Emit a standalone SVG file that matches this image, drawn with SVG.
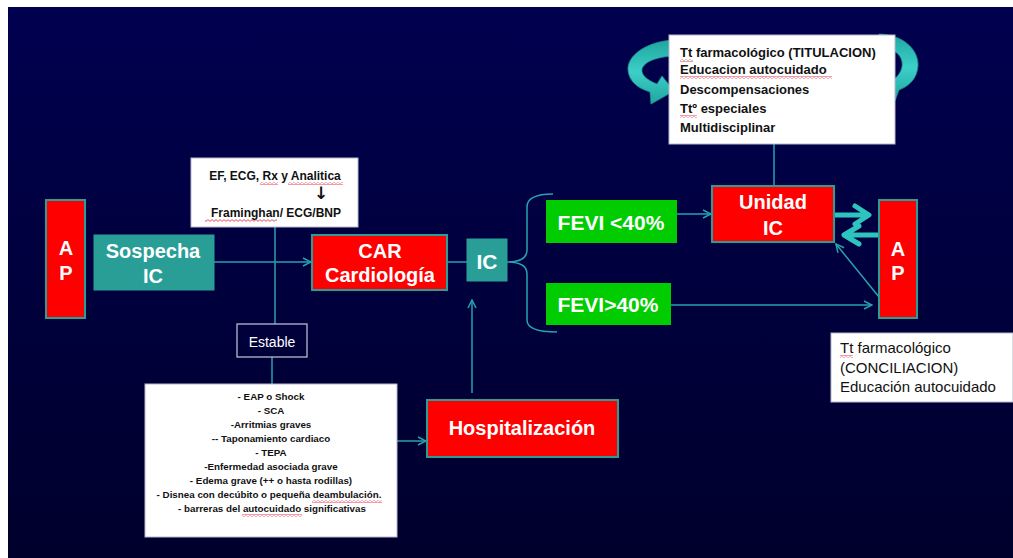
<svg xmlns="http://www.w3.org/2000/svg" width="1013" height="558" viewBox="0 0 1013 558">
<defs>
<linearGradient id="bg" x1="0" y1="0" x2="0" y2="1">
<stop offset="0" stop-color="#00004F"/>
<stop offset="1" stop-color="#00002C"/>
</linearGradient>
<linearGradient id="curl" x1="0" y1="0" x2="0" y2="1">
<stop offset="0" stop-color="#1FA59F"/>
<stop offset="0.5" stop-color="#3CCFC8"/>
<stop offset="1" stop-color="#1FA59F"/>
</linearGradient>
<marker id="open" viewBox="0 0 10 10" refX="9" refY="5" markerWidth="10" markerHeight="10" markerUnits="userSpaceOnUse" orient="auto">
<path d="M1,1 L9,5 L1,9" fill="none" stroke="#27A2AD" stroke-width="1.5"/>
</marker>
<pattern id="sq" width="4" height="3" patternUnits="userSpaceOnUse">
<path d="M0,0.6 L2,2.4 L4,0.6" fill="none" stroke="#E0203A" stroke-width="0.8"/>
</pattern>
<style>
.red{fill:#FF0000;stroke:#2A9D95;stroke-width:2}
.teal{fill:#289E97;stroke:#2A9D95;stroke-width:1}
.green{fill:#00CC00}
.wbox{fill:#FFFFFF;stroke:#B8B8CC;stroke-width:1}
.big{font-family:"Liberation Sans",Arial,sans-serif;font-weight:bold;fill:#FFFFFF;text-anchor:middle}
.dark{font-family:"Liberation Sans",Arial,sans-serif;font-weight:bold;fill:#111111}
.reg{font-family:"Liberation Sans",Arial,sans-serif;fill:#111111;font-size:15px}
.conn{stroke:#27A2AD;stroke-width:1.5;fill:none}
.thick{stroke:#2EC4BE;stroke-width:5;fill:none;stroke-linecap:round;stroke-linejoin:round}
</style>
</defs>
<rect x="0" y="0" width="1013" height="558" fill="#FFFFFF"/>
<rect x="8" y="7" width="1005" height="551" fill="url(#bg)"/>

<g id="connectors">
<line class="conn" x1="214" y1="262" x2="311" y2="262" marker-end="url(#open)"/>
<line class="conn" x1="275" y1="227" x2="275" y2="324"/>
<line class="conn" x1="272" y1="357" x2="272" y2="384"/>
<line class="conn" x1="397" y1="441" x2="426" y2="441" marker-end="url(#open)"/>
<line class="conn" x1="472" y1="393" x2="472" y2="300" marker-end="url(#open)"/>
<line class="conn" x1="447" y1="262" x2="467" y2="262"/>
<path class="conn" d="M553,194 Q527,194 527,207 L527,250 Q527,262 507,262 Q527,262 527,274 L527,320 Q527,332 557,332"/>
<line class="conn" x1="677" y1="214" x2="711" y2="214" marker-end="url(#open)"/>
<line class="conn" x1="671" y1="305" x2="872" y2="305" marker-end="url(#open)"/>
<line class="conn" x1="879" y1="297" x2="836" y2="244" marker-end="url(#open)"/>
<line class="conn" x1="774" y1="144" x2="774" y2="186"/>
<path class="thick" d="M835,215 L868,215 M855,206 L869,215 L855,224"/>
<path class="thick" d="M878,235 L845,235 M859,226 L844,235 L859,244"/>
</g>

<g id="cycle-arrows">
<path d="M673,40 C645,42 627,56 628,70 C629,81 637,88 650,92 L651,104 L674,91 L662,76 L657,84 C647,80 641,75 642,69 C644,62 656,57 673,56 Z" fill="url(#curl)" stroke="#1E8F8A" stroke-width="0.8"/>
<path d="M879,34 C906,35 919,52 918,66 C917,79 909,86 899,90 L895,101 L877,87 L891,73 L893,80 C900,75 903,68 902,62 C901,54 893,48 879,47 Z" fill="url(#curl)" stroke="#1E8F8A" stroke-width="0.8"/>
</g>

<g id="ap-left">
<rect class="red" x="46" y="200" width="39" height="118"/>
<text class="big" x="66" y="255" font-size="20">A</text>
<text class="big" x="66" y="280" font-size="20">P</text>
</g>

<g id="sospecha">
<rect class="teal" x="94" y="235" width="120" height="55"/>
<text class="big" x="153" y="258" font-size="20">Sospecha</text>
<text class="big" x="153" y="283" font-size="20">IC</text>
</g>

<g id="pruebas">
<rect class="wbox" x="191" y="158" width="167" height="69"/>
<text class="dark" x="275" y="180" font-size="12" text-anchor="middle">EF, ECG, Rx y Analitica</text>
<text x="321" y="199" font-family="DejaVu Sans, sans-serif" font-weight="bold" font-size="17" fill="#111111" text-anchor="middle">↓</text>
<text class="dark" x="276" y="217" font-size="12" text-anchor="middle">Framinghan/ ECG/BNP</text>
<rect x="260" y="182" width="18" height="3" fill="url(#sq)"/>
<rect x="288" y="182" width="55" height="3" fill="url(#sq)"/>
<rect x="205" y="219" width="72" height="3" fill="url(#sq)"/>
</g>

<g id="car">
<rect class="red" x="312" y="235" width="135" height="55"/>
<text class="big" x="380" y="258" font-size="20">CAR</text>
<text class="big" x="380" y="282" font-size="20">Cardiología</text>
</g>

<g id="ic">
<rect class="teal" x="467" y="239" width="40" height="42"/>
<text class="big" x="487" y="269" font-size="21">IC</text>
</g>

<g id="fevi-low">
<rect class="green" x="546" y="200" width="131" height="43"/>
<text class="big" x="611" y="230" font-size="21">FEVI &lt;40%</text>
</g>

<g id="fevi-high">
<rect class="green" x="546" y="283" width="125" height="42"/>
<text class="big" x="608" y="312" font-size="21">FEVI&gt;40%</text>
</g>

<g id="unidad-ic">
<rect class="red" x="712" y="186" width="122" height="56"/>
<text class="big" x="773" y="209" font-size="20">Unidad</text>
<text class="big" x="773" y="235" font-size="20">IC</text>
</g>

<g id="ap-right">
<rect class="red" x="879" y="200" width="38" height="118"/>
<text class="big" x="898" y="256" font-size="20">A</text>
<text class="big" x="898" y="280" font-size="20">P</text>
</g>

<g id="unidad-tareas">
<rect class="wbox" x="669" y="35" width="226" height="109"/>
<text class="dark" x="680" y="57" font-size="13">Tt farmacológico (TITULACION)</text>
<text class="dark" x="680" y="74" font-size="13">Educacion autocuidado</text>
<text class="dark" x="680" y="94" font-size="13">Descompensaciones</text>
<text class="dark" x="680" y="113" font-size="13">Ttº especiales</text>
<text class="dark" x="680" y="132" font-size="13">Multidisciplinar</text>
<rect x="680" y="59" width="13" height="3" fill="url(#sq)"/>
<rect x="680" y="76" width="152" height="3" fill="url(#sq)"/>
<rect x="680" y="115" width="17" height="3" fill="url(#sq)"/>
</g>

<g id="estable">
<rect x="237" y="324" width="70" height="33" fill="none" stroke="#C8C8E0" stroke-width="1.2"/>
<text x="272" y="347" font-family="Liberation Sans, Arial, sans-serif" font-size="14" fill="#FFFFFF" text-anchor="middle">Estable</text>
</g>

<g id="criterios">
<rect class="wbox" x="145" y="384" width="252" height="153"/>
<g class="dark" font-size="9.8" text-anchor="middle">
<text x="271" y="400">- EAP o  Shock</text>
<text x="271" y="414">- SCA</text>
<text x="271" y="428">-Arritmias graves</text>
<text x="271" y="442">-- Taponamiento cardiaco</text>
<text x="271" y="456">- TEPA</text>
<text x="271" y="470">-Enfermedad asociada grave</text>
<text x="271" y="484">- Edema grave (++ o  hasta rodillas)</text>
<text x="269" y="498">- Disnea con decúbito o pequeña deambulación.</text>
<text x="272" y="512">- barreras del autocuidado significativas</text>
</g>
<rect x="312" y="500" width="70" height="3" fill="url(#sq)"/>
<rect x="242" y="514" width="60" height="3" fill="url(#sq)"/>
</g>

<g id="hospitalizacion">
<rect class="red" x="427" y="400" width="191" height="57"/>
<text class="big" x="522" y="435" font-size="20">Hospitalización</text>
</g>

<g id="ap-tareas">
<rect class="wbox" x="831" y="333" width="182" height="69"/>
<text class="reg" x="840" y="353">Tt farmacológico</text>
<text class="reg" x="840" y="373">(CONCILIACION)</text>
<text class="reg" x="840" y="392">Educación autocuidado</text>
<rect x="840" y="355" width="13" height="3" fill="url(#sq)"/>
</g>
</svg>
